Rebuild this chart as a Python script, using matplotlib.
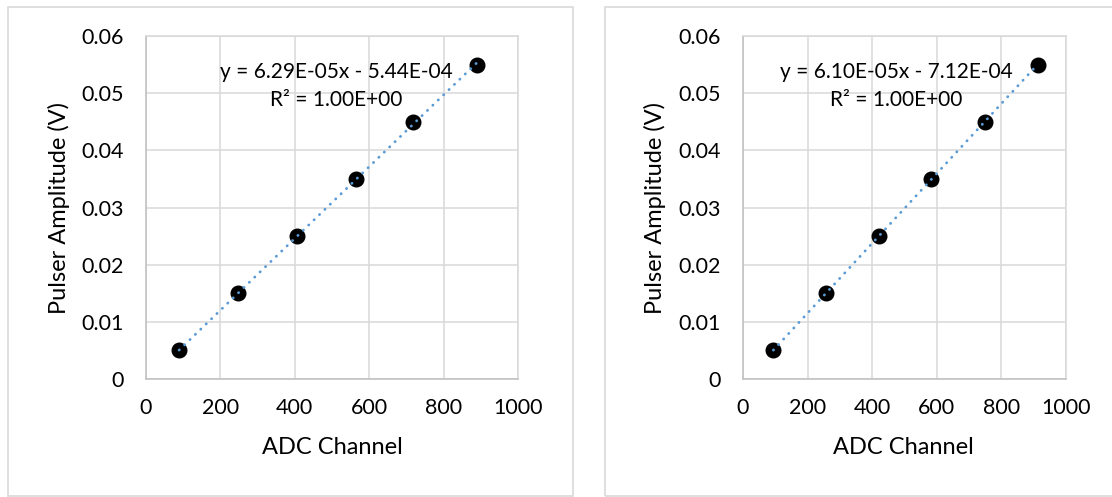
"""
Pulser amplitude vs ADC channel calibration, two detectors side by side
"""
import matplotlib
matplotlib.use('Agg')
import matplotlib.pyplot as plt
from matplotlib.patches import Rectangle
import numpy as np

plt.rcParams['font.family'] = ['Lato', 'DejaVu Sans']

amplitude = [0.005, 0.015, 0.025, 0.035, 0.045, 0.055]
channel_a = [89, 248, 407, 565, 718, 890]
channel_b = [94, 257, 420, 583, 748, 913]

eq_a = ["y = 6.29E-05x - 5.44E-04", "R² = 1.00E+00"]
eq_b = ["y = 6.10E-05x - 7.12E-04", "R² = 1.00E+00"]

x_ticks = [0, 200, 400, 600, 800, 1000]
y_ticks = [0, 0.01, 0.02, 0.03, 0.04, 0.05, 0.06]
y_tick_labels = ['0', '0.01', '0.02', '0.03', '0.04', '0.05', '0.06']

W, H = 1112, 497
fig = plt.figure(figsize=(W / 100, H / 100), dpi=100)
fig.patch.set_facecolor('white')

# chart frames (Excel chart area borders)
for x0, x1 in [(7.5, 572.5), (604.5, 1120)]:
    fig.patches.append(Rectangle((x0 / W, 1 - 496 / H), (x1 - x0) / W, (496 - 6.5) / H,
                                 transform=fig.transFigure, fill=False,
                                 edgecolor='#d9d9d9', linewidth=1.2))


def draw_panel(rect, channels, eq_lines, eq_x, xlab_x, ylab_x):
    ax = fig.add_axes(rect)
    ax.set_xlim(0, 1000)
    ax.set_ylim(0, 0.06)
    ax.set_xticks(x_ticks)
    ax.set_yticks(y_ticks)
    ax.set_yticklabels(y_tick_labels)
    ax.tick_params(axis='both', length=0, labelsize=15.5, colors='black')
    ax.tick_params(axis='x', pad=14)
    ax.tick_params(axis='y', pad=16)
    ax.grid(True, color='#d9d9d9', linewidth=1.1)
    ax.set_axisbelow(True)
    for side in ['top', 'right']:
        ax.spines[side].set_color('#d9d9d9')
    for side in ['left', 'bottom']:
        ax.spines[side].set_color('#bfbfbf')
    for s in ax.spines.values():
        s.set_linewidth(1.1)

    ax.plot(channels, amplitude, 'o', color='black', markersize=10.5, zorder=3)

    # linear trendline over the data range
    k, b = np.polyfit(channels, amplitude, 1)
    xs = np.array([min(channels), max(channels)])
    ax.plot(xs, k * xs + b, color='#5b9bd5', linewidth=2.0,
            linestyle=(0, (0.1, 2.6)), dash_capstyle='round', zorder=4)

    ax.text(eq_x, 0.895, eq_lines[0], transform=ax.transAxes,
            ha='center', va='center', fontsize=15)
    ax.text(eq_x, 0.813, eq_lines[1], transform=ax.transAxes,
            ha='center', va='center', fontsize=15)

    ax.set_xlabel('ADC Channel', fontsize=17, va='center')
    ax.set_ylabel('Pulser Amplitude (V)', fontsize=17, va='center')
    ax.xaxis.set_label_coords(xlab_x, -0.201)
    ax.yaxis.set_label_coords(ylab_x, 0.5)
    return ax


draw_panel([146 / W, (H - 379) / H, 372 / W, 343 / H], channel_a, eq_a, 0.511, 0.5, -0.234)
draw_panel([743 / W, (H - 379) / H, 323 / W, 343 / H], channel_b, eq_b, 0.475, 0.498, -0.272)

plt.savefig('out.png', dpi=100, facecolor='white')
plt.close(fig)
